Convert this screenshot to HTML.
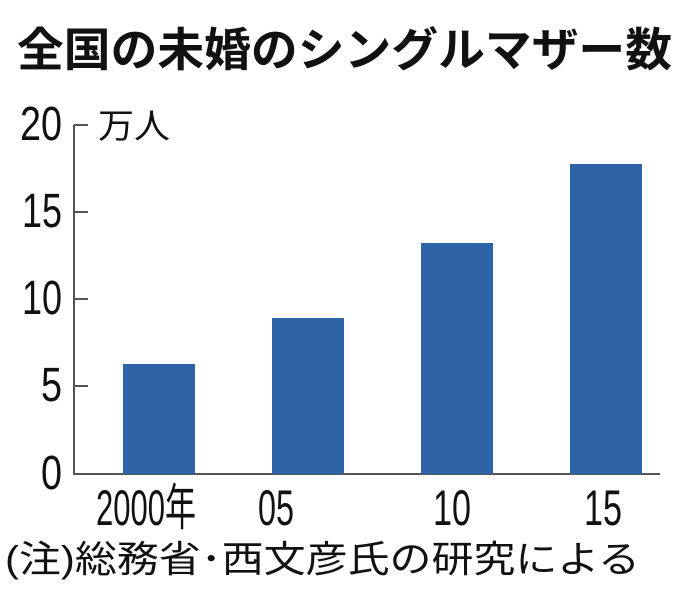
<!DOCTYPE html>
<html><head><meta charset="utf-8"><style>
html,body{margin:0;padding:0;background:#fff;}
svg{display:block;}
text{font-family:"Liberation Sans","Noto Sans CJK JP",sans-serif;fill:#111;}
</style></head><body>
<svg width="698" height="603" viewBox="0 0 698 603" xmlns="http://www.w3.org/2000/svg">
<text x="17" y="66" font-size="46" font-weight="bold" textLength="655" lengthAdjust="spacingAndGlyphs">全国の未婚のシングルマザー数</text>
<g stroke="#555" stroke-width="2" fill="none">
<line x1="74" y1="125" x2="74" y2="475"/>
<line x1="73" y1="474" x2="660" y2="474"/>
<line x1="74" y1="125" x2="88" y2="125"/>
<line x1="74" y1="212" x2="88" y2="212"/>
<line x1="74" y1="299" x2="88" y2="299"/>
<line x1="74" y1="386" x2="88" y2="386"/>
</g>
<g fill="#2e63a8">
<rect x="123" y="364" width="72" height="110"/>
<rect x="272" y="318" width="72" height="156"/>
<rect x="421" y="243" width="72" height="231"/>
<rect x="570" y="164" width="72" height="310"/>
</g>
<g font-size="48" text-anchor="end">
<text x="62" y="140" textLength="42" lengthAdjust="spacingAndGlyphs">20</text>
<text x="62" y="227" textLength="40" lengthAdjust="spacingAndGlyphs">15</text>
<text x="62" y="314" textLength="40" lengthAdjust="spacingAndGlyphs">10</text>
<text x="62" y="401" textLength="21" lengthAdjust="spacingAndGlyphs">5</text>
<text x="62" y="489" textLength="21" lengthAdjust="spacingAndGlyphs">0</text>
</g>
<text x="98" y="138" font-size="34" textLength="72" lengthAdjust="spacingAndGlyphs">万人</text>
<g font-size="50">
<text x="96" y="525" textLength="100" lengthAdjust="spacingAndGlyphs">2000年</text>
<text x="258" y="525" textLength="36" lengthAdjust="spacingAndGlyphs">05</text>
<text x="433" y="525" textLength="38" lengthAdjust="spacingAndGlyphs">10</text>
<text x="584" y="525" textLength="38" lengthAdjust="spacingAndGlyphs">15</text>
</g>
<text x="5" y="572" font-size="37" textLength="635" lengthAdjust="spacingAndGlyphs">(注)総務省･西文彦氏の研究による</text>
</svg>
</body></html>
